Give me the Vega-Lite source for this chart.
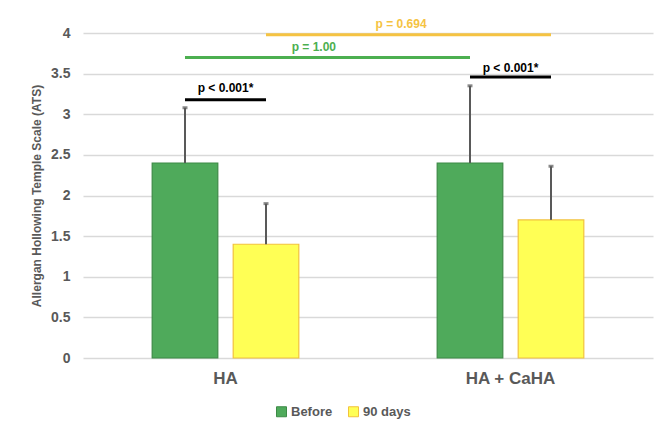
{
  "$schema": "https://vega.github.io/schema/vega-lite/v6.json",
  "width": 570,
  "height": 325,
  "autosize": {"type": "none"},
  "padding": {"left": 83, "top": 33, "right": 15, "bottom": 74},
  "background": "white",
  "config": {
    "view": {"stroke": null},
    "font": "Liberation Sans",
    "axis": {"labelFont": "Liberation Sans", "titleFont": "Liberation Sans"}
  },
  "datasets": {
    "bars": [
      {"group": "HA", "series": "Before", "mean": 2.4, "upper": 3.08},
      {"group": "HA", "series": "90 days", "mean": 1.4, "upper": 1.9},
      {"group": "HA + CaHA", "series": "Before", "mean": 2.4, "upper": 3.35},
      {"group": "HA + CaHA", "series": "90 days", "mean": 1.7, "upper": 2.36}
    ],
    "lines": [
      {"id": "ha", "kind": "within", "group": "HA", "series": "Before", "y": 3.18},
      {"id": "ha", "kind": "within", "group": "HA", "series": "90 days", "y": 3.18},
      {"id": "caha", "kind": "within", "group": "HA + CaHA", "series": "Before", "y": 3.46},
      {"id": "caha", "kind": "within", "group": "HA + CaHA", "series": "90 days", "y": 3.46},
      {"id": "before", "kind": "before", "group": "HA", "series": "Before", "y": 3.7},
      {"id": "before", "kind": "before", "group": "HA + CaHA", "series": "Before", "y": 3.7},
      {"id": "d90", "kind": "d90", "group": "HA", "series": "90 days", "y": 3.98},
      {"id": "d90", "kind": "d90", "group": "HA + CaHA", "series": "90 days", "y": 3.98}
    ],
    "labels": [
      {"kind": "within", "group": "HA", "label": "p < 0.001*", "y": 3.32},
      {"kind": "within", "group": "HA + CaHA", "label": "p < 0.001*", "y": 3.57},
      {"kind": "before", "group": "HA", "label": "p = 1.00", "y": 3.83},
      {"kind": "d90", "group": "HA", "label": "p = 0.694", "y": 4.11}
    ]
  },
  "encoding": {
    "x": {
      "field": "group",
      "type": "nominal",
      "sort": ["HA", "HA + CaHA"],
      "scale": {"paddingInner": 0, "paddingOuter": 0},
      "axis": {
        "title": null,
        "labelAngle": 0,
        "domain": false,
        "ticks": false,
        "labelFontSize": 17,
        "labelFontWeight": "bold",
        "labelColor": "#595959",
        "labelPadding": 12
      }
    },
    "y": {
      "type": "quantitative",
      "scale": {"domain": [0, 4]},
      "axis": {
        "title": "Allergan Hollowing Temple Scale (ATS)",
        "titleFontSize": 12,
        "titleFontWeight": "bold",
        "titleColor": "#595959",
        "titlePadding": 7,
        "values": [0, 0.5, 1, 1.5, 2, 2.5, 3, 3.5, 4],
        "format": "~g",
        "labelFontSize": 14,
        "labelFontWeight": "bold",
        "labelColor": "#595959",
        "labelPadding": 13,
        "domain": false,
        "ticks": false,
        "gridColor": "#d9d9d9",
        "gridWidth": 1.5
      }
    }
  },
  "layer": [
    {
      "data": {"name": "bars"},
      "mark": {"type": "bar", "strokeWidth": 1.2},
      "encoding": {
        "xOffset": {
          "field": "series",
          "type": "nominal",
          "scale": {"domain": ["Before", "90 days"], "paddingInner": 0.19, "paddingOuter": 0.854}
        },
        "y": {"field": "mean", "type": "quantitative"},
        "color": {
          "field": "series",
          "type": "nominal",
          "scale": {"domain": ["Before", "90 days"], "range": ["#4faa5b", "#ffff55"]},
          "legend": {
            "title": null,
            "orient": "none",
            "legendX": 192,
            "legendY": 372,
            "direction": "horizontal",
            "symbolType": "square",
            "symbolSize": 100,
            "symbolStrokeWidth": 1,
            "symbolOpacity": 1,
            "labelFontSize": 13,
            "labelFontWeight": "bold",
            "labelColor": "#595959",
            "labelOffset": 3,
            "columnPadding": 13
          }
        },
        "stroke": {
          "field": "series",
          "type": "nominal",
          "scale": {"domain": ["Before", "90 days"], "range": ["#3d8a46", "#f2c23c"]},
          "legend": null
        }
      }
    },
    {
      "data": {"name": "bars"},
      "mark": {"type": "rule", "color": "#595959", "strokeWidth": 2},
      "encoding": {
        "xOffset": {"field": "series", "type": "nominal"},
        "y": {"field": "mean", "type": "quantitative"},
        "y2": {"field": "upper"}
      }
    },
    {
      "data": {"name": "bars"},
      "mark": {"type": "tick", "color": "#595959", "size": 5, "thickness": 3},
      "encoding": {
        "xOffset": {"field": "series", "type": "nominal"},
        "y": {"field": "upper", "type": "quantitative"}
      }
    },
    {
      "data": {"name": "lines"},
      "transform": [{"filter": "datum.kind === 'within'"}],
      "mark": {"type": "line", "color": "#000000", "strokeWidth": 3, "clip": false},
      "encoding": {
        "xOffset": {"field": "series", "type": "nominal"},
        "y": {"field": "y", "type": "quantitative"},
        "detail": {"field": "id"}
      }
    },
    {
      "data": {"name": "lines"},
      "transform": [{"filter": "datum.kind === 'before'"}],
      "mark": {"type": "line", "color": "#4caf50", "strokeWidth": 3, "clip": false},
      "encoding": {
        "xOffset": {"field": "series", "type": "nominal"},
        "y": {"field": "y", "type": "quantitative"},
        "detail": {"field": "id"}
      }
    },
    {
      "data": {"name": "lines"},
      "transform": [{"filter": "datum.kind === 'd90'"}],
      "mark": {"type": "line", "color": "#f5c342", "strokeWidth": 3, "clip": false},
      "encoding": {
        "xOffset": {"field": "series", "type": "nominal"},
        "y": {"field": "y", "type": "quantitative"},
        "detail": {"field": "id"}
      }
    },
    {
      "data": {"name": "labels"},
      "transform": [{"filter": "datum.kind === 'within'"}],
      "mark": {"type": "text", "color": "#000000", "fontSize": 12, "fontWeight": "bold", "baseline": "middle", "align": "center"},
      "encoding": {
        "x": {"field": "group", "type": "nominal", "bandPosition": 0.5},
        "y": {"field": "y", "type": "quantitative"},
        "text": {"field": "label"}
      }
    },
    {
      "data": {"name": "labels"},
      "transform": [{"filter": "datum.kind === 'before'"}],
      "mark": {"type": "text", "color": "#4caf50", "fontSize": 12, "fontWeight": "bold", "baseline": "middle", "align": "center"},
      "encoding": {
        "x": {"field": "group", "type": "nominal", "bandPosition": 0.81},
        "y": {"field": "y", "type": "quantitative"},
        "text": {"field": "label"}
      }
    },
    {
      "data": {"name": "labels"},
      "transform": [{"filter": "datum.kind === 'd90'"}],
      "mark": {"type": "text", "color": "#f5c342", "fontSize": 12, "fontWeight": "bold", "baseline": "middle", "align": "center"},
      "encoding": {
        "x": {"field": "group", "type": "nominal", "bandPosition": 1.116},
        "y": {"field": "y", "type": "quantitative"},
        "text": {"field": "label"}
      }
    }
  ]
}
